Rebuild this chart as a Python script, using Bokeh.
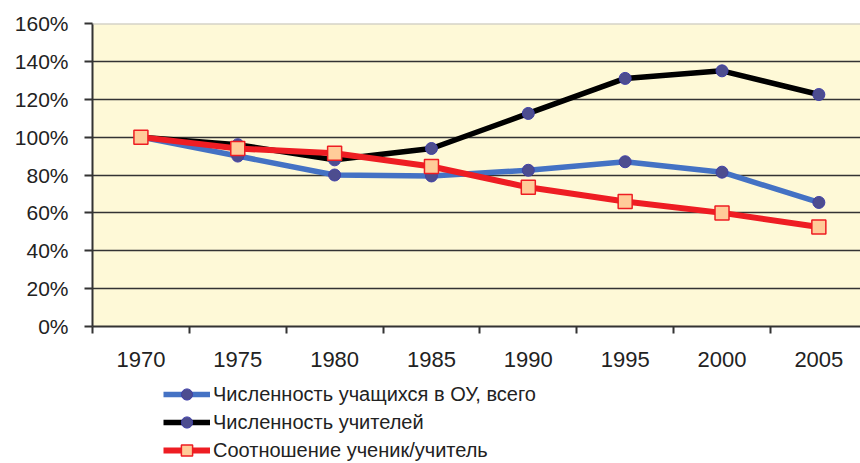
from bokeh.plotting import figure
from bokeh.layouts import column
from bokeh.models import FixedTicker, PrintfTickFormatter, Legend, LegendItem, Span, Range1d
from bokeh.embed import file_html
from bokeh.resources import INLINE

years = ["1970", "1975", "1980", "1985", "1990", "1995", "2000", "2005"]
students = [100, 90, 80, 79.5, 82.5, 87, 81.5, 65.5]
teachers = [100, 96, 88, 94, 112.5, 131, 135, 122.5]
ratio = [100, 94, 91.5, 84.5, 73.5, 66, 60, 52.5]
y_ticks = [0, 20, 40, 60, 80, 100, 120, 140, 160]
labels = ["Численность учащихся в ОУ, всего",
          "Численность учителей",
          "Соотношение ученик/учитель"]

x = list(range(len(years)))
FONT = "Liberation Sans"

styles = [
    dict(line_color="#4472C4", line_width=5.5, marker="circle", size=12,
         fill_color="#4D4D8F", mline="#3F3FA8", mwidth=1),
    dict(line_color="black", line_width=5.5, marker="circle", size=12,
         fill_color="#4D4D8F", mline="#3F3FA8", mwidth=1),
    dict(line_color="#EE1D23", line_width=6, marker="square", size=14,
         fill_color="#FFCC99", mline="#EE1D23", mwidth=1.5),
]
series = [students, teachers, ratio]


def draw(fig, values, st):
    ln = fig.line(x, values, line_color=st["line_color"], line_width=st["line_width"])
    sc = fig.scatter(x, values, marker=st["marker"], size=st["size"], fill_color=st["fill_color"],
                     line_color=st["mline"], line_width=st["mwidth"])
    return ln, sc


# ---- main chart ----
p = figure(width=860, height=372, output_backend="svg", toolbar_location=None,
           x_range=Range1d(-0.5, 7.43), y_range=Range1d(0, 160),
           min_border_left=92, min_border_right=0, min_border_top=23, min_border_bottom=46)
p.background_fill_color = "#FEF9D7"
p.border_fill_color = "white"
p.outline_line_color = None

xa = p.xaxis[0]
xa.ticker = FixedTicker(ticks=x, minor_ticks=[i - 0.5 for i in range(len(years) + 1)])
xa.major_label_overrides = {i: y for i, y in enumerate(years)}
xa.major_tick_out = 0
xa.major_tick_in = 0
xa.minor_tick_out = 7
xa.minor_tick_in = 0
xa.minor_tick_line_color = "#333333"
xa.minor_tick_line_width = 2
xa.axis_line_color = "#333333"
xa.axis_line_width = 2
xa.major_label_standoff = 18
xa.major_label_text_font = FONT
xa.major_label_text_font_size = "22px"
xa.major_label_text_color = "#222222"

ya = p.yaxis[0]
ya.ticker = FixedTicker(ticks=y_ticks)
ya.formatter = PrintfTickFormatter(format="%d%%")
ya.major_tick_out = 8
ya.major_tick_in = 0
ya.minor_tick_out = 0
ya.minor_tick_in = 0
ya.major_tick_line_color = "#333333"
ya.major_tick_line_width = 2
ya.axis_line_color = "#333333"
ya.axis_line_width = 2
ya.major_label_standoff = 16
ya.major_label_text_font = FONT
ya.major_label_text_font_size = "21px"
ya.major_label_text_color = "#222222"

p.xgrid.visible = False
p.ygrid.ticker = FixedTicker(ticks=y_ticks[1:-1])
p.ygrid.grid_line_color = "#333333"
p.ygrid.grid_line_width = 1.4
p.add_layout(Span(location=y_ticks[-1], dimension="width", line_color="#C0C0C0", line_width=2))

for vals, st in zip(series, styles):
    draw(p, vals, st)

# ---- legend strip (same series, drawn out of view; only the legend shows) ----
q = figure(width=860, height=91, output_backend="svg", toolbar_location=None,
           x_range=Range1d(-0.5, 7.43), y_range=Range1d(1000, 1001),
           x_axis_location=None, y_axis_location=None,
           min_border_left=0, min_border_right=0, min_border_top=0, min_border_bottom=0)
q.outline_line_color = None
q.grid.visible = False
q.background_fill_color = "white"
q.border_fill_color = "white"

items = []
for vals, st, lab in zip(series, styles, labels):
    ln, sc = draw(q, vals, st)
    items.append(LegendItem(label=lab, renderers=[ln, sc]))

legend = Legend(items=items, location=(71, -1), orientation="vertical",
                glyph_width=47, glyph_height=28, label_height=28, spacing=0,
                padding=0, margin=0, label_standoff=3,
                border_line_color=None, background_fill_alpha=0,
                label_text_font=FONT, label_text_font_size="20px", label_text_color="#222222")
q.add_layout(legend)

layout = column(p, q, spacing=0)
open("out.html", "w").write(file_html(layout, INLINE))
